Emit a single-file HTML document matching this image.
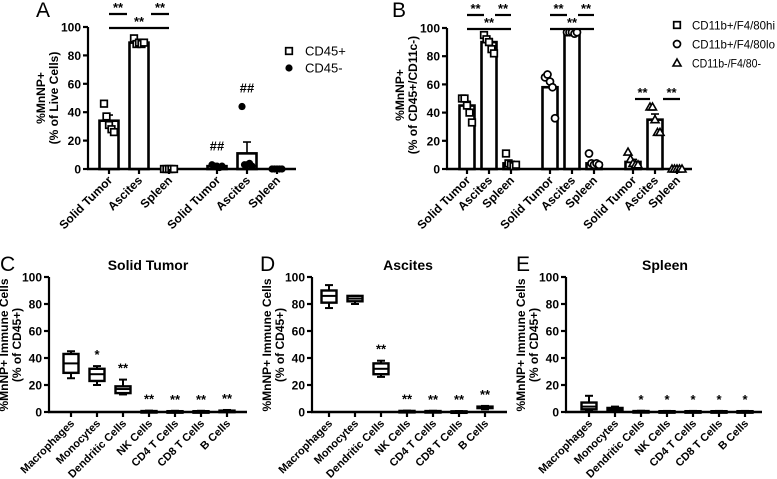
<!DOCTYPE html>
<html><head><meta charset="utf-8">
<style>
html,body{margin:0;padding:0;background:#fff;}
svg{display:block;font-family:"Liberation Sans",Arial,sans-serif;}
.t{font-weight:bold;font-size:12px;}
.n{font-weight:normal;}
</style></head>
<body>
<svg id="fig" width="777" height="479" viewBox="0 0 777 479" xmlns="http://www.w3.org/2000/svg"></svg>
<script>
// ---------- Panel A data ----------
const catsA = ["Solid Tumor","Ascites","Spleen"];
const groupsA = ["CD45+","CD45-"];
const meanA = [[34,89,0],[2,11,0]];
const semA = [[4,1,0],[0.5,8,0]];
const ptsA = [[[46,37,31,28,26],[92,88,89,88,89],[0,0,0,0,0]],[[3,2,2,1,2],[44,3,3,4,2],[0,0,0,0,0]]];
const hashA = [["","",""],["##","##",""]];
// ---------- Panel B data ----------
const groupsB = ["CD11b+/F4/80hi","CD11b+/F4/80lo","CD11b-/F4/80-"];
const meanB = [[45,90,4],[58,97,4],[5,35,0]];
const semB = [[3,2.5,1.5],[5,0.3,1.5],[1.8,4,0]];
const ptsB = [[[50,50,45,40,33],[95,92,90,85,82],[11,4,3,2,3]],[[65,67,62,58,36],[97,97,97,96,97],[11,4,3,4,3]],[[12,7,4,3,3],[44,44,35,26,26],[0,0,0,0,0]]];
// ---------- Box panels ----------
const cellCats = ["Macrophages","Monocytes","Dendritic Cells","NK Cells","CD4 T Cells","CD8 T Cells","B Cells"];
const yTicks = [0,20,40,60,80,100];
// [min,q1,median,q3,max]
const boxC = [[25,29,36,43,45],[20,23,28,32,34],[13,14,17,19,24],[0.2,0.4,0.5,0.7,1],[0.2,0.4,0.5,0.6,0.9],[0.2,0.4,0.5,0.6,0.9],[0.3,0.5,0.7,1,1.5]];
const boxD = [[77,81,86,90,94],[80,82,84,86,86],[26,28,32,36,38],[0.2,0.4,0.6,0.8,1],[0.2,0.4,0.5,0.7,0.9],[0.1,0.3,0.4,0.5,0.7],[2,3,3.5,4,4.5]];
const boxE = [[1,2,4,7,12],[0.5,1,2,3,4],[0.2,0.3,0.5,0.7,0.9],[0.2,0.3,0.5,0.6,0.8],[0.2,0.3,0.5,0.6,0.8],[0.2,0.3,0.5,0.6,0.8],[0.2,0.3,0.5,0.6,0.8]];
const starsC = ["","*","**","**","**","**","**"];
const starsD = ["","","**","**","**","**","**"];
const starsE = ["","","*","*","*","*","*"];

const svg = document.getElementById('fig');
const NS = "http://www.w3.org/2000/svg";
function mk(tag, attrs, parent){
  const e = document.createElementNS(NS, tag);
  for (const k in attrs) e.setAttribute(k, attrs[k]);
  (parent||svg).appendChild(e);
  return e;
}
function txt(s, x, y, cls, extra, parent){
  const e = mk('text', Object.assign({x:x, y:y, class:cls}, extra||{}), parent);
  e.textContent = s;
  return e;
}
function line(x1,y1,x2,y2,w,parent){ return mk('line',{x1:x1,y1:y1,x2:x2,y2:y2,stroke:'#000','stroke-width':w||2},parent); }

function yAxis(g, ox, y0, scale, xEnd){
  const ax = mk('g',{},g);
  
  
  line(ox, y0+1, ox, y0-100*scale, 2.2, ax);
  yTicks.forEach(v=>{
    const y = y0 - v*scale;
    line(ox-5, y, ox, y, 2.2, ax);
    const t = txt(String(v), ox-7, y+4.5, 't', {'text-anchor':'end'}, ax);
    
    
  });
  const xa = line(ox-1, y0, xEnd, y0, 2.4, g);
  
  
}
function xLabel(g, s, x, y0, fs){
  line(x, y0, x, y0+5, 2.2, g);
  const t = txt(s, x+4, y0+12, 't', {'text-anchor':'end', style:'font-size:'+(fs||12)+'px', transform:`rotate(-45 ${x+4} ${y0+12})`}, g);
  
  
}
function yTitle(g, lines, cx, cy){
  const t = mk('text',{class:'t', style:'font-size:12px', 'text-anchor':'middle', transform:`rotate(-90 ${cx} ${cy})`},g);
  
  
  lines.forEach((s,i)=>{ const ts = mk('tspan',{x:cx, y:cy+i*13},t); ts.textContent = s; });
}
function letter(s,x,y){
  const t = txt(s,x,y,'n', {style:'font-size:21px'});
  
  
}
function marker(g, kind, x, y){
  if (kind==='sq') return mk('rect',{x:x-3.3,y:y-3.3,width:6.6,height:6.6,fill:'#fff',stroke:'#000','stroke-width':1.7},g);
  if (kind==='dot') return mk('circle',{cx:x,cy:y,r:3.6,fill:'#000'},g);
  if (kind==='circ') return mk('circle',{cx:x,cy:y,r:3.5,fill:'#fff',stroke:'#000','stroke-width':1.7},g);
  if (kind==='tri') return mk('path',{d:`M${x} ${y-4} L${x+4} ${y+3} L${x-4} ${y+3} Z`,fill:'#fff',stroke:'#000','stroke-width':1.6},g);
}
function bracket(g, x1, x2, y, label){
  line(x1, y, x2, y, 2.2, g);
  txt(label, (x1+x2)/2, y-2, 't', {'text-anchor':'middle',style:'font-size:13px'}, g);
}
const jit = [-5,-2.5,0,2.5,5];
function barSet(g, cx, mean, sem, pts, y, kind, bw){
  const b = mk('rect',{x:cx-bw/2, y:y(mean), width:bw, height:Math.max(0,y(0)-y(mean)), fill:'#fff', stroke:'#000','stroke-width':2.6},g);
  
  
  if (sem>0){
    line(cx, y(mean), cx, y(mean+sem), 1.6, g);
    line(cx-4, y(mean+sem), cx+4, y(mean+sem), 1.6, g);
  }
  pts.forEach((p,k)=>{
    const m = marker(g, kind, cx+jit[k], y(p));
    
    
  });
}

// ---------- Panel A ----------
(function(){
  const g = mk('g',{});
  
  
  const ox=88, y0=169, sc=1.42;
  const y = v => y0 - v*sc;
  const x = (gi,i) => 109 + gi*108 + i*30;
  letter('A',36,17);
  yTitle(g, ['%MnNP+','(% of Live Cells)'], 45, 98);
  yAxis(g, ox, y0, sc, 296);
  const kinds = ['sq','dot'];
  groupsA.forEach((gn,gi)=>{
    catsA.forEach((c,i)=>{
      barSet(g, x(gi,i), meanA[gi][i], semA[gi][i], ptsA[gi][i], y, kinds[gi], 19);
      xLabel(g, c, x(gi,i), y0);
      if (hashA[gi][i]) txt(hashA[gi][i], x(gi,i), y(Math.max(...ptsA[gi][i], meanA[gi][i]+semA[gi][i]))-14, 't', {'text-anchor':'middle',style:'font-size:13px'}, g);
    });
  });
  bracket(g, x(0,0), x(0,1)-12, 14, '**');
  bracket(g, x(0,1)+12, x(0,2), 14, '**');
  bracket(g, x(0,0), x(0,2), 28, '**');
  const lg = mk('g',{},g);
  
  
  groupsA.forEach((s,i)=>{
    const yy = 51 + i*17;
    marker(lg, kinds[i], 289, yy);
    const t = txt(s, 305, yy+4.5, 'n', {style:'font-size:13px'}, lg);
    
    
  });
})();

// ---------- Panel B ----------
(function(){
  const g = mk('g',{});
  
  
  const ox=447, y0=169, sc=1.41;
  const y = v => y0 - v*sc;
  const x = (gi,i) => 467 + gi*83 + i*22;
  letter('B',392,17);
  yTitle(g, ['%MnNP+','(% of CD45+/CD11c-)'], 404, 95);
  yAxis(g, ox, y0, sc, 692);
  const kinds = ['sq','circ','tri'];
  groupsB.forEach((gn,gi)=>{
    catsA.forEach((c,i)=>{
      barSet(g, x(gi,i), meanB[gi][i], semB[gi][i], ptsB[gi][i], y, kinds[gi], 15);
      xLabel(g, c, x(gi,i), y0);
    });
  });
  [0,1].forEach(gi=>{
    bracket(g, x(gi,0), x(gi,1)-5, 15, '**');
    bracket(g, x(gi,1)+6, x(gi,2), 15, '**');
    bracket(g, x(gi,0), x(gi,2), 29, '**');
  });
  bracket(g, x(2,0)+2, x(2,1)-5, 99, '**');
  bracket(g, x(2,1)+8, x(2,2)+3, 99, '**');
  const lg = mk('g',{},g);
  
  
  const lens = [83, 83, 69];
  groupsB.forEach((s,i)=>{
    const yy = 25 + i*19;
    marker(lg, kinds[i], 677, yy);
    const t = txt(s, 692, yy+4.5, 'n', {style:'font-size:12px', textLength:lens[i], lengthAdjust:'spacingAndGlyphs'}, lg);
    
    
  });
})();

// ---------- Box panels ----------
function boxPanel(name, L, lx, ox, x0, xEnd, title, tx, data, stars){
  const g = mk('g',{});
  
  
  const y0=412, sc=1.35;
  const y = v => y0 - v*sc;
  const x = i => x0 + i*26;
  letter(L, lx, 271);
  const tt = txt(title, tx, 270, 't', {'text-anchor':'middle',style:'font-size:14px'}, g);
  
  
  yTitle(g, ['%MnNP+ Immune Cells','(% of CD45+)'], ox-41, 345);
  yAxis(g, ox, y0, sc, xEnd);
  cellCats.forEach((c,i)=>{
    const d = data[i], cx = x(i), bw = 15;
    const bg = mk('g',{},g);
    
    
    line(cx, y(d[0]), cx, y(d[1]), 2, bg);
    line(cx, y(d[3]), cx, y(d[4]), 2, bg);
    line(cx-4, y(d[0]), cx+4, y(d[0]), 2, bg);
    line(cx-4, y(d[4]), cx+4, y(d[4]), 2, bg);
    mk('rect',{x:cx-bw/2, y:y(d[3]), width:bw, height:Math.max(1.5,y(d[1])-y(d[3])), fill:'#fff', stroke:'#000','stroke-width':2.4},bg);
    line(cx-bw/2, y(d[2]), cx+bw/2, y(d[2]), 2, bg);
    if (stars[i]) txt(stars[i], cx, y(d[4])-7, 't', {'text-anchor':'middle',style:'font-size:13px'}, g);
    xLabel(g, c, cx, y0, 11);
  });
}
boxPanel('panel-c-chart','C',0,49,71,247,'Solid Tumor',148,boxC,starsC);
boxPanel('panel-d-chart','D',260,312,329,507,'Ascites',408,boxD,starsD);
boxPanel('panel-e-chart','E',516,566,589,762,'Spleen',665,boxE,starsE);
</script>
</body></html>
